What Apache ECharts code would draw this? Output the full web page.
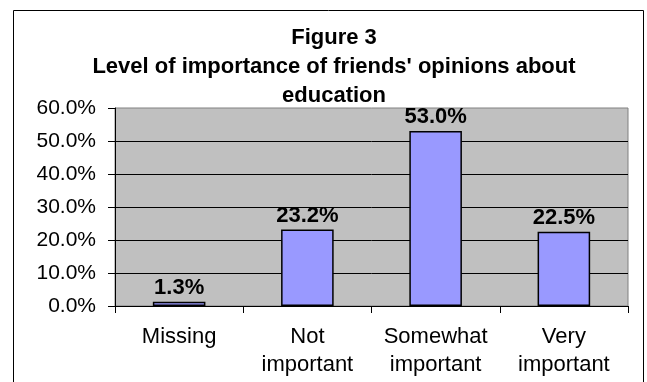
<!DOCTYPE html>
<html>
<head>
<meta charset="utf-8">
<script src="https://cdn.jsdelivr.net/npm/echarts@6/dist/echarts.min.js"></script>
<style>
  html, body { margin: 0; padding: 0; background: #ffffff; }
  #chart { width: 647px; height: 382px; }
</style>
</head>
<body>
<div id="chart"></div>
<script>
// Survey responses: importance of friends' opinions about education
const categories = ['Missing', 'Not\nimportant', 'Somewhat\nimportant', 'Very\nimportant'];
const percentages = [1.3, 23.2, 53.0, 22.5];
const yTicks = [0, 10, 20, 30, 40, 50, 60];
const titleLines = ['Figure 3', "Level of importance of friends' opinions about", 'education'];

const FONT = '"Liberation Sans", Arial, sans-serif';
const chart = echarts.init(document.getElementById('chart'), null, { renderer: 'canvas' });

chart.setOption({
  animation: false,
  backgroundColor: '#ffffff',
  textStyle: { fontFamily: FONT },
  title: {
    text: titleLines.join('\n'),
    left: 329,
    textAlign: 'center',
    top: 18,
    textStyle: {
      fontFamily: FONT,
      fontSize: 22,
      fontWeight: 'bold',
      color: '#000000',
      lineHeight: 29
    }
  },
  graphic: [{
    type: 'rect',
    silent: true,
    z: -10,
    shape: { x: 13.5, y: 10.5, width: 630, height: 400 },
    style: { fill: 'none', stroke: '#000000', lineWidth: 1 }
  }],
  grid: {
    left: 115,
    right: 19,
    top: 108,
    bottom: 76,
    show: true,
    backgroundColor: '#c0c0c0',
    borderColor: '#808080',
    borderWidth: 1
  },
  xAxis: {
    type: 'category',
    data: categories,
    boundaryGap: true,
    axisLine: { show: true, lineStyle: { color: '#000000', width: 1 } },
    axisTick: { show: true, length: 7, alignWithLabel: false, lineStyle: { color: '#000000' } },
    axisLabel: {
      interval: 0,
      margin: 17,
      fontFamily: FONT,
      fontSize: 22,
      lineHeight: 28,
      color: '#000000'
    },
    splitLine: { show: false }
  },
  yAxis: {
    type: 'value',
    min: yTicks[0],
    max: yTicks[yTicks.length - 1],
    interval: yTicks[1] - yTicks[0],
    axisLine: { show: true, lineStyle: { color: '#000000', width: 1 } },
    axisTick: { show: true, length: 7, lineStyle: { color: '#000000' } },
    axisLabel: {
      margin: 19,
      fontFamily: FONT,
      fontSize: 21,
      color: '#000000',
      formatter: v => v.toFixed(1) + '%'
    },
    splitLine: {
      show: true,
      showMaxLine: false,
      showMinLine: false,
      lineStyle: { color: '#000000', width: 1 }
    }
  },
  series: [{
    type: 'bar',
    data: percentages,
    barCategoryGap: '59%',
    itemStyle: { color: '#9999ff', borderColor: '#000000', borderWidth: 1.5 },
    label: {
      show: true,
      position: 'top',
      distance: 3,
      fontFamily: FONT,
      fontSize: 22,
      fontWeight: 'bold',
      color: '#000000',
      formatter: p => p.value.toFixed(1) + '%'
    }
  }]
});
</script>
</body>
</html>
